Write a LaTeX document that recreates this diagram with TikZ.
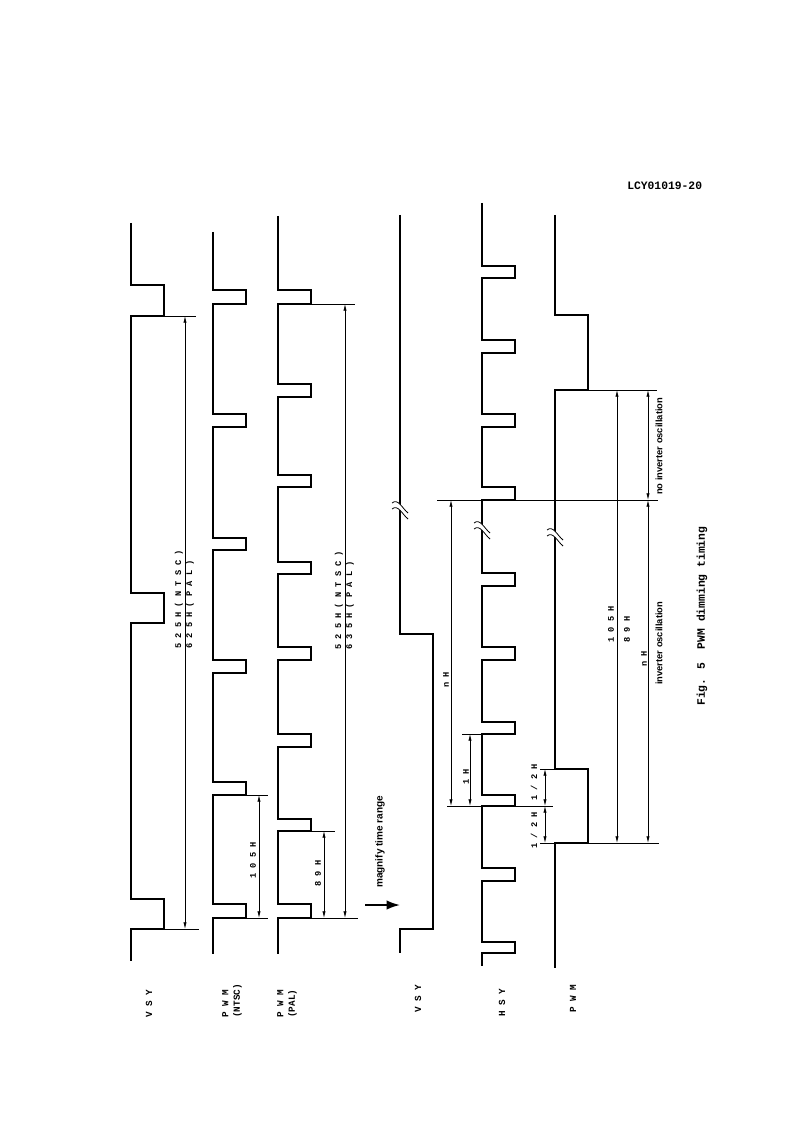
\documentclass[tikz,border=0pt]{standalone}
\usepackage{fontspec}
\setmainfont{Liberation Serif}
\newfontfamily\labfont{Liberation Mono}
\newfontfamily\notefont{Liberation Sans}
\usetikzlibrary{arrows.meta}

\begin{document}
\begin{tikzpicture}[x=0.75pt, y=-0.75pt,
  wave/.style={line width=0.8pt, line join=miter},
  ext/.style={line width=0.5pt},
  dim/.style={line width=0.5pt, {Latex[length=5pt,width=2.4pt]}-{Latex[length=5pt,width=2.4pt]}},
  lab/.style={font=\labfont\bfseries\fontsize{6.5}{8}\selectfont, rotate=90, anchor=west, inner sep=0pt, align=left},
  note/.style={font=\notefont\bfseries\fontsize{7}{8}\selectfont, rotate=90, anchor=west, inner sep=0pt},
  brk/.pic={
    \fill[white] (-8,-7) .. controls (-2,-12) and (2,-2) .. (8,3) -- (8,9) .. controls (2,4) and (-2,-6) .. (-8,-1) -- cycle;
    \draw[line width=0.6pt] (-8,-7) .. controls (-2,-12) and (2,-2) .. (8,3);
    \draw[line width=0.6pt] (-8,-1) .. controls (-2,-6) and (2,4) .. (8,9);
  }]

\useasboundingbox (0,0) rectangle (793,1123);

% --- Title ---
\node[font=\labfont\bfseries\fontsize{8.5}{10}\selectfont, anchor=west, inner sep=0pt] (title) at (627,186) {LCY01019-20};

% --- Full time range: VSY, PWM (NTSC), PWM (PAL) ---

% VSY
\draw[wave] (131,223) -- (131,285) -- (164,285) -- (164,316) -- (131,316)
  -- (131,593) -- (164,593) -- (164,623) -- (131,623)
  -- (131,899) -- (164,899) -- (164,929) -- (131,929) -- (131,961);

% PWM (NTSC)
\draw[wave] (213,232) -- (213,290) -- (246,290) -- (246,304) -- (213,304)
  -- (213,414) -- (246,414) -- (246,427) -- (213,427)
  -- (213,538) -- (246,538) -- (246,550) -- (213,550)
  -- (213,660) -- (246,660) -- (246,673) -- (213,673)
  -- (213,782) -- (246,782) -- (246,795) -- (213,795)
  -- (213,904) -- (246,904) -- (246,918) -- (213,918) -- (213,954);

% PWM (PAL)
\draw[wave] (278,216) -- (278,290) -- (311,290) -- (311,304) -- (278,304)
  -- (278,384) -- (311,384) -- (311,397) -- (278,397)
  -- (278,475) -- (311,475) -- (311,487) -- (278,487)
  -- (278,562) -- (311,562) -- (311,574) -- (278,574)
  -- (278,647) -- (311,647) -- (311,660) -- (278,660)
  -- (278,734) -- (311,734) -- (311,747) -- (278,747)
  -- (278,819) -- (311,819) -- (311,831) -- (278,831)
  -- (278,904) -- (311,904) -- (311,918) -- (278,918) -- (278,954);

% Extension lines
\draw[ext] (164,316) -- (196,316);
\draw[ext] (164,929) -- (199,929);
\draw[ext] (246,795) -- (268,795);
\draw[ext] (246,918) -- (268,918);
\draw[ext] (311,304) -- (355,304);
\draw[ext] (311,831) -- (335,831);
\draw[ext] (311,918) -- (358,918);

% Dimension end points
\coordinate (F1t) at (185,316);  \coordinate (F1b) at (185,929);
\coordinate (F2t) at (259,795);  \coordinate (F2b) at (259,918);
\coordinate (F3t) at (324,831);  \coordinate (F3b) at (324,918);
\coordinate (F4t) at (345,304);  \coordinate (F4b) at (345,918);

\draw[dim] (F1t) -- (F1b);
\draw[dim] (F2t) -- (F2b);
\draw[dim] (F3t) -- (F3b);
\draw[dim] (F4t) -- (F4b);

\node[lab] (frameA) at (179,649) {5 2 5 H ( N T S C )};
\node[lab] (frameB) at (190,649) {6 2 5 H ( P A L )};
\node[lab] (cycA) at (253,879) {1 0 5 H};
\node[lab] (cycB) at (318,887) {8 9 H};
\node[lab] (frameC) at (339,650) {5 2 5 H ( N T S C )};
\node[lab] (frameD) at (350,650) {6 3 5 H ( P A L )};

% --- Magnify arrow ---
\coordinate (M1) at (365,905);
\coordinate (M2) at (400,905);
\draw[line width=1.3pt, -{Latex[length=10pt,width=7pt]}] (M1) -- (M2);
\node[note, font=\notefont\bfseries\fontsize{7.5}{9}\selectfont] (magn) at (380,888) {magnify time range};

% --- Magnified range: VSY, HSY, PWM ---

% VSY
\draw[wave] (400,215) -- (400,634) -- (433,634) -- (433,929) -- (400,929) -- (400,953);

% HSY
\draw[wave] (482,203) -- (482,266) -- (515,266) -- (515,278) -- (482,278)
  -- (482,340) -- (515,340) -- (515,353) -- (482,353)
  -- (482,414) -- (515,414) -- (515,427) -- (482,427)
  -- (482,487) -- (515,487) -- (515,500) -- (482,500)
  -- (482,573) -- (515,573) -- (515,586) -- (482,586)
  -- (482,647) -- (515,647) -- (515,660) -- (482,660)
  -- (482,722) -- (515,722) -- (515,734) -- (482,734)
  -- (482,795) -- (515,795) -- (515,806) -- (482,806)
  -- (482,868) -- (515,868) -- (515,881) -- (482,881)
  -- (482,942) -- (515,942) -- (515,953) -- (482,953) -- (482,966);

% PWM
\draw[wave] (555,215) -- (555,315) -- (588,315) -- (588,390) -- (555,390)
  -- (555,769) -- (588,769) -- (588,843) -- (555,843) -- (555,968);

% Break marks
\pic at (400,510) {brk};
\pic at (482,530) {brk};
\pic at (555,537) {brk};

% Reference lines
\draw[ext] (437,500) -- (658,500);
\draw[ext] (462,734) -- (482,734);
\draw[ext] (447,806) -- (553,806);
\draw[ext] (540,769) -- (555,769);
\draw[ext] (540,843) -- (659,843);
\draw[ext] (588,390) -- (657,390);

% Dimension end points
\coordinate (G1t) at (451,500);  \coordinate (G1b) at (451,806);
\coordinate (G2t) at (470,734);  \coordinate (G2b) at (470,806);
\coordinate (G3t) at (545,769);  \coordinate (G3m) at (545,806);  \coordinate (G3b) at (545,843);
\coordinate (G4t) at (617,390);  \coordinate (G4b) at (617,843);
\coordinate (G5t) at (648,390);  \coordinate (G5m) at (648,500);  \coordinate (G5b) at (648,843);

\draw[dim] (G1t) -- (G1b);
\draw[dim] (G2t) -- (G2b);
\draw[dim] (G3t) -- (G3m);
\draw[dim] (G3m) -- (G3b);
\draw[dim] (G4t) -- (G4b);
\draw[dim] (G5t) -- (G5m);
\draw[dim] (G5m) -- (G5b);

\node[lab] (nA) at (446,688) {n H};
\node[lab] (oneH) at (466,785) {1 H};
\node[lab] (halfA) at (534,801) {1 / 2 H};
\node[lab] (halfB) at (534,849) {1 / 2 H};
\node[lab] (cycC) at (611,643) {1 0 5 H};
\node[lab] (cycD) at (627,643) {8 9 H};
\node[lab] (nB) at (644,667) {n H};
\node[note] (osc) at (659,685) {inverter oscillation};
\node[note] (noosc) at (659,495) {no inverter oscillation};

% --- Caption ---
\node[font=\labfont\bfseries\fontsize{8.5}{10}\selectfont, rotate=90, anchor=west, inner sep=0pt] (cap) at (702,706) {Fig. 5\ \ PWM dimming timing};

% --- Signal names ---
\node[lab, font=\labfont\bfseries\fontsize{7}{8.5}\selectfont] (sVSYa) at (149,1018) {V S Y};
\node[lab, font=\labfont\bfseries\fontsize{7}{8.5}\selectfont] (sPWMa) at (232,1018) {P W M\\(NTSC)};
\node[lab, font=\labfont\bfseries\fontsize{7}{8.5}\selectfont] (sPWMb) at (287,1018) {P W M\\(PAL)};
\node[lab, font=\labfont\bfseries\fontsize{7}{8.5}\selectfont] (sVSYb) at (418,1013) {V S Y};
\node[lab, font=\labfont\bfseries\fontsize{7}{8.5}\selectfont] (sHSY) at (502,1017) {H S Y};
\node[lab, font=\labfont\bfseries\fontsize{7}{8.5}\selectfont] (sPWMc) at (573,1013) {P W M};

\end{tikzpicture}
\end{document}
